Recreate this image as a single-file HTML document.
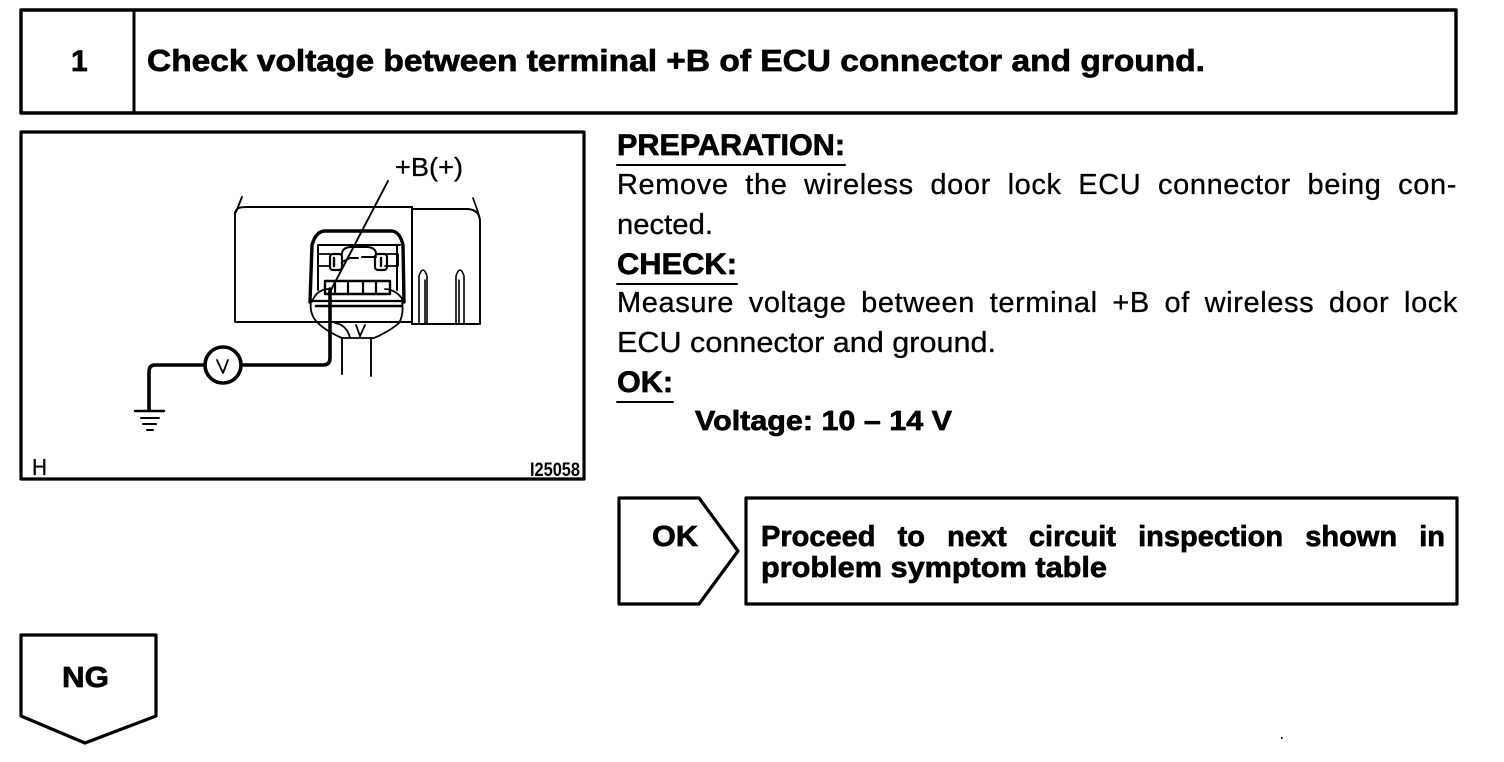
<!DOCTYPE html>
<html><head><meta charset="utf-8">
<style>
html,body{margin:0;padding:0;background:#fff;width:1504px;height:762px;overflow:hidden}
svg{position:absolute;left:0;top:0}
.j{position:absolute;font-family:"Liberation Sans",sans-serif;color:#000;text-align:justify;text-align-last:justify;white-space:normal;-webkit-text-stroke:.3px #000}
.jb{-webkit-text-stroke:.7px #000;font-weight:bold}
text{font-family:"Liberation Sans",sans-serif;fill:#000;stroke:#000;stroke-width:.3px}
text.b{font-weight:bold;stroke-width:.7px}
</style></head><body>
<svg width="1504" height="762" viewBox="0 0 1504 762" fill="none" stroke="#000" stroke-linejoin="round" stroke-linecap="round">
<!-- header -->
<rect x="21" y="10" width="1435" height="103" stroke-width="3.4"/>
<line x1="134" y1="10" x2="134" y2="113" stroke-width="3"/>
<text x="71" y="71" font-size="30" class="b">1</text>
<text x="147" y="71" font-size="31" class="b" textLength="1058" lengthAdjust="spacingAndGlyphs">Check voltage between terminal +B of ECU connector and ground.</text>
<!-- figure box -->
<rect x="21" y="132" width="563" height="347" stroke-width="3.2"/>
<!-- housing -->
<path d="M242 197L236 212Q235 207 247 207L412 207V322H235V212" stroke-width="1.9"/>
<path d="M412 207V323M412 209H468Q480 210 480 222V324H412" stroke-width="1.9"/>
<path d="M473 198L478 212L480 220" stroke-width="1.7"/>
<path d="M419 323V276Q423 264 427 276V323M425 323V280" stroke-width="1.6"/>
<path d="M456 323V276Q460 264 464 276V323M459 323V280" stroke-width="1.6"/>
<!-- connector -->
<path d="M310 302L312 245Q316 231 325 231H392Q400 232 403 245L404 302" stroke-width="3.4"/>
<path d="M318 245H400M318 245V290M397 245V290" stroke-width="2"/>
<path d="M318 254H330M318 266H330M318 254V266M385 254H398V266H385" stroke-width="1.8"/>
<rect x="330" y="254" width="12" height="16" rx="3" stroke-width="2.2"/>
<rect x="375" y="254" width="12" height="16" rx="3" stroke-width="2.2"/>
<path d="M334 258V266M381 258V266" stroke-width="2.4"/>
<path d="M342 254Q342 248 350 247H368Q376 248 376 254M342 262L350 258H358M362 257H376" stroke-width="2"/>
<rect x="325" y="281" width="65" height="13" stroke-width="2.4"/>
<path d="M335 281V294M348 281V294M363 281V294M376 281V294" stroke-width="2.2"/>
<path d="M312 302Q316 290 328 289M404 302Q398 290 385 289" stroke-width="1.7"/>
<path d="M312 301H404" stroke-width="2.2"/>
<path d="M316 306H402" stroke-width="2.6"/>
<path d="M311 300Q309 315 318 323Q326 331 342 338L374 338Q390 331 399 323Q404 315 402 300" stroke-width="1.8"/>
<path d="M335 323Q347 325 350 338M356 325L360 336L365 325M360 336V338" stroke-width="1.8"/>
<path d="M342 338V374M371 338V376" stroke-width="1.9"/>
<!-- leader + label -->
<line x1="388" y1="181" x2="331" y2="290" stroke-width="1.9"/>
<text x="395" y="176" font-size="26" textLength="68" lengthAdjust="spacingAndGlyphs">+B(+)</text>
<!-- wire -->
<path d="M330 289V358Q330 365 323 365H242" stroke-width="3.6"/>
<path d="M203 365H155Q149 365 149 372V410" stroke-width="3.6"/>
<circle cx="223" cy="365" r="18" stroke-width="3.6"/>
<path d="M217 360L223 373L228 360" stroke-width="1.8"/>
<path d="M135 411H164" stroke-width="2.4"/>
<path d="M141 418H159" stroke-width="2"/>
<path d="M143 424H156" stroke-width="2"/>
<path d="M147 430H153" stroke-width="2"/>
<text x="32" y="475" font-size="23" textLength="15" lengthAdjust="spacingAndGlyphs">H</text>
<text x="530" y="476" font-size="19" class="b" style="stroke-width:0" textLength="50" lengthAdjust="spacingAndGlyphs">I25058</text>
<!-- headings -->
<text x="617" y="155" font-size="30" class="b" textLength="228" lengthAdjust="spacingAndGlyphs">PREPARATION:</text>
<line x1="617" y1="165" x2="845" y2="165" stroke-width="2"/>
<text x="617" y="274" font-size="30" class="b" textLength="120" lengthAdjust="spacingAndGlyphs">CHECK:</text>
<line x1="617" y1="284" x2="737" y2="284" stroke-width="2"/>
<text x="617" y="392" font-size="30" class="b" textLength="56" lengthAdjust="spacingAndGlyphs">OK:</text>
<line x1="617" y1="402" x2="673" y2="402" stroke-width="2"/>
<!-- body single lines -->
<text x="617" y="234" font-size="29" textLength="96" lengthAdjust="spacingAndGlyphs">nected.</text>
<text x="617" y="352" font-size="29" textLength="379" lengthAdjust="spacingAndGlyphs">ECU connector and ground.</text>
<text x="695" y="430" font-size="28" class="b" textLength="257" lengthAdjust="spacingAndGlyphs">Voltage: 10 – 14 V</text>
<!-- OK -->
<path d="M619 498H699L738 551L699 604H619Z" stroke-width="3.2"/>
<text x="652" y="546" font-size="29" class="b" textLength="46" lengthAdjust="spacingAndGlyphs">OK</text>
<rect x="746" y="498" width="711" height="106" stroke-width="3.2"/>
<text x="761" y="577" font-size="29" class="b" textLength="346" lengthAdjust="spacingAndGlyphs">problem symptom table</text>
<!-- NG -->
<path d="M21 635H156V716L85 743L21 716Z" stroke-width="3.2"/>
<text x="62" y="687" font-size="29" class="b" textLength="47" lengthAdjust="spacingAndGlyphs">NG</text>
<rect x="1281" y="737" width="1.5" height="2" fill="#000" stroke="none"/>
</svg>
<div class="j" style="left:617px;top:167px;width:840px;font-size:29px;line-height:36px;letter-spacing:.6px">Remove the wireless door lock ECU connector being con-</div>
<div class="j" style="left:617px;top:285px;width:841px;font-size:29px;line-height:36px;letter-spacing:.6px">Measure voltage between terminal +B of wireless door lock</div>
<div class="j jb" style="left:761px;top:519px;width:684px;font-size:29px;line-height:36px">Proceed to next circuit inspection shown in</div>
</body></html>
